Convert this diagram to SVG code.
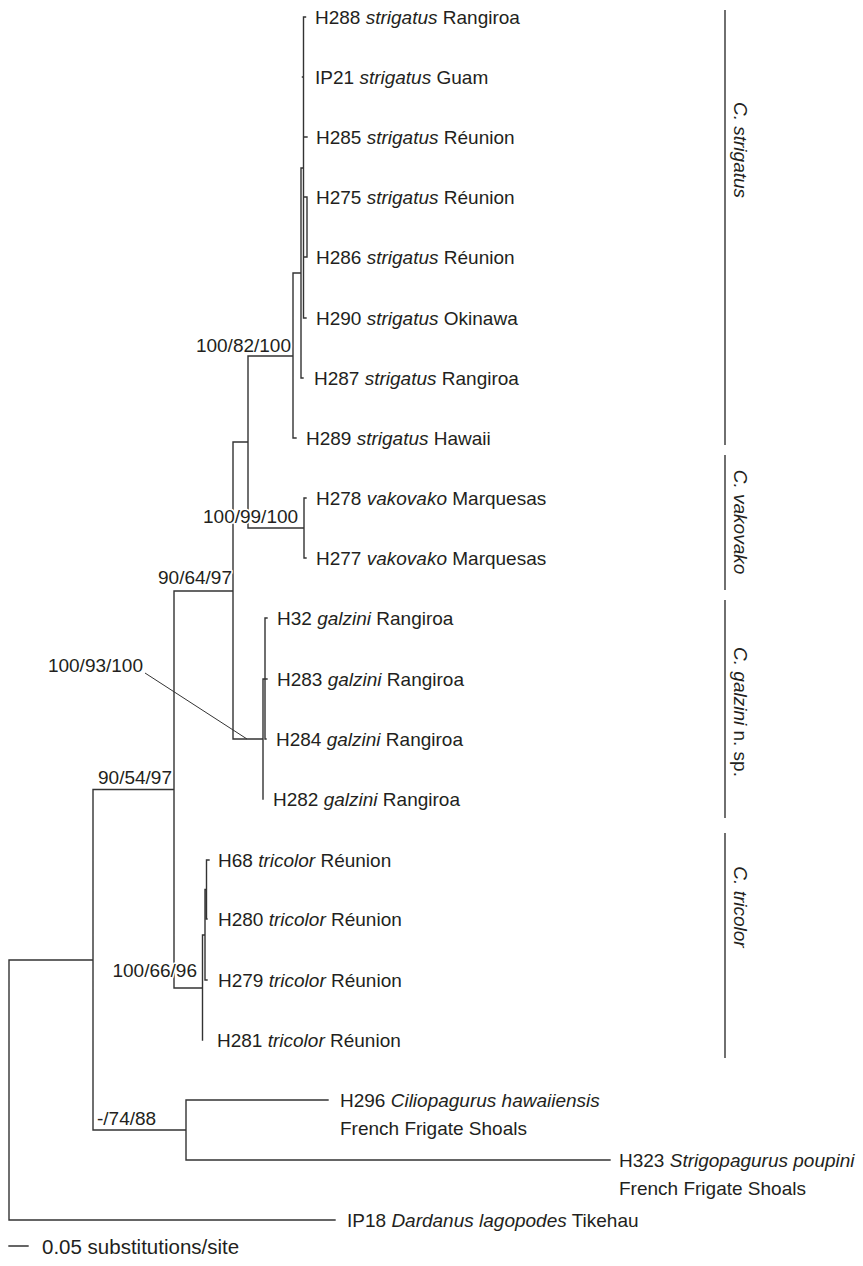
<svg xmlns="http://www.w3.org/2000/svg" width="863" height="1266" viewBox="0 0 863 1266">
<style>
.t{font-family:"Liberation Sans",Arial,Helvetica,sans-serif;font-size:19px;fill:#231f20}
.i{font-style:italic}
.s{paint-order:stroke;stroke:#fff;stroke-width:3px;stroke-linejoin:round}
.br{stroke:#333;stroke-width:1.4;fill:none;stroke-linecap:square}
.ld{stroke:#333;stroke-width:1;fill:none}
.bar{stroke:#333;stroke-width:1.4;fill:none}
</style>
<rect width="863" height="1266" fill="#fff"/>
<g id="connectors">
<path class="br" d="M303.5,17V318M303.5,17H305.5M303.5,77H302.5M303.5,137H307M304,197H307V257H304M303.5,318H306
M301,168H303.5M301,168V378M301,378H303
M293,273H301M293,273V438M293,438H296
M248,356H293M248,356V528M248,528H304M304,498V558M304,498H306M304,558H306
M233,442H248M233,442V739
M233,739H263M263,679V799M263,679H265M265,618V739M265,618H267M265,679H267M265,739H266
M174,591H233M174,591V988
M174,988H202.5M202.5,935V1040M202.5,935H205M205,889.5V980M205,980H207M205,889.5H206.5M206.5,860V919M206.5,860H209M206.5,919H207
M93,789.5H174M93,789.5V1130
M93,1130H186M186,1100V1160M186,1100H328M186,1160H610
M9,960H93M9,960V1220M9,1220H335
M9,1246H28"/>
<path class="ld" d="M145,673L247,739"/>
</g>
<g id="supports">
<text class="t s" x="291" y="352" text-anchor="end">100/82/100</text>
<text class="t s" x="203" y="523">100/99/100</text>
<text class="t s" x="232" y="584" text-anchor="end">90/64/97</text>
<text class="t s" x="143" y="672" text-anchor="end">100/93/100</text>
<text class="t s" x="172" y="784" text-anchor="end">90/54/97</text>
<text class="t s" x="197" y="977" text-anchor="end">100/66/96</text>
<text class="t s" x="97" y="1125">-/74/88</text>
</g>
<g id="H288"><text class="t" x="315" y="23.5">H288 <tspan class="i">strigatus</tspan> Rangiroa</text></g>
<g id="IP21"><text class="t" x="315" y="83.5">IP21 <tspan class="i">strigatus</tspan> Guam</text></g>
<g id="H285"><text class="t" x="316" y="143.5">H285 <tspan class="i">strigatus</tspan> Réunion</text></g>
<g id="H275"><text class="t" x="316" y="203.5">H275 <tspan class="i">strigatus</tspan> Réunion</text></g>
<g id="H286"><text class="t" x="316" y="263.5">H286 <tspan class="i">strigatus</tspan> Réunion</text></g>
<g id="H290"><text class="t" x="316" y="324.5">H290 <tspan class="i">strigatus</tspan> Okinawa</text></g>
<g id="H287"><text class="t" x="314" y="384.5">H287 <tspan class="i">strigatus</tspan> Rangiroa</text></g>
<g id="H289"><text class="t" x="306" y="444.5">H289 <tspan class="i">strigatus</tspan> Hawaii</text></g>
<g id="H278"><text class="t" x="316" y="504.5">H278 <tspan class="i">vakovako</tspan> Marquesas</text></g>
<g id="H277"><text class="t" x="316" y="564.5">H277 <tspan class="i">vakovako</tspan> Marquesas</text></g>
<g id="H32"><text class="t" x="277" y="624.5">H32 <tspan class="i">galzini</tspan> Rangiroa</text></g>
<g id="H283"><text class="t" x="277" y="685.5">H283 <tspan class="i">galzini</tspan> Rangiroa</text></g>
<g id="H284"><text class="t" x="276" y="745.5">H284 <tspan class="i">galzini</tspan> Rangiroa</text></g>
<g id="H282"><text class="t" x="273" y="805.5">H282 <tspan class="i">galzini</tspan> Rangiroa</text></g>
<g id="H68"><text class="t" x="218" y="866.5">H68 <tspan class="i">tricolor</tspan> Réunion</text></g>
<g id="H280"><text class="t" x="218" y="925.5">H280 <tspan class="i">tricolor</tspan> Réunion</text></g>
<g id="H279"><text class="t" x="218" y="986.5">H279 <tspan class="i">tricolor</tspan> Réunion</text></g>
<g id="H281"><text class="t" x="217" y="1046.5">H281 <tspan class="i">tricolor</tspan> Réunion</text></g>
<g id="H296"><text class="t" x="340" y="1106.5">H296 <tspan class="i">Ciliopagurus hawaiiensis</tspan></text><text class="t" x="340" y="1134.5">French Frigate Shoals</text></g>
<g id="H323"><text class="t" x="619" y="1166.5">H323 <tspan class="i">Strigopagurus poupini</tspan></text><text class="t" x="619" y="1194.5">French Frigate Shoals</text></g>
<g id="IP18"><text class="t" x="347" y="1226.5">IP18 <tspan class="i">Dardanus lagopodes</tspan> Tikehau</text></g>
<g id="scale"><text class="t" x="42" y="1253.5" style="font-size:20.5px">0.05 substitutions/site</text></g>
<g id="clade-strigatus"><path class="bar" d="M725,10V445"/><text class="t i" transform="translate(734,150) rotate(90)" text-anchor="middle">C. strigatus</text></g>
<g id="clade-vakovako"><path class="bar" d="M725,455V590"/><text class="t i" transform="translate(734,522) rotate(90)" text-anchor="middle">C. vakovako</text></g>
<g id="clade-galzini"><path class="bar" d="M725,600V818"/><text class="t" transform="translate(734,712) rotate(90)" text-anchor="middle"><tspan class="i">C. galzini</tspan> n. sp.</text></g>
<g id="clade-tricolor"><path class="bar" d="M725,833V1058"/><text class="t i" transform="translate(734,907) rotate(90)" text-anchor="middle">C. tricolor</text></g>
</svg>
